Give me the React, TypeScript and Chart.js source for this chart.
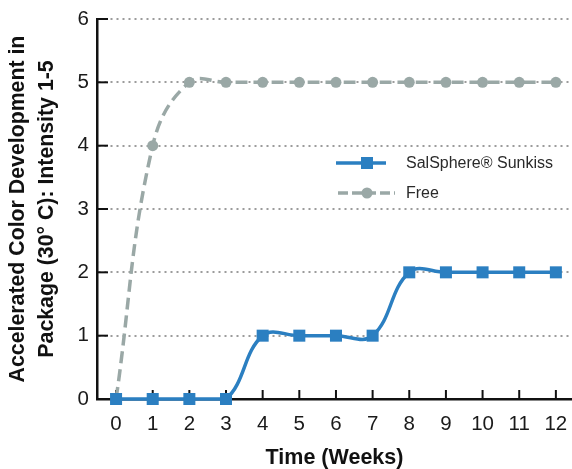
import React, { useEffect, useRef } from "react";
import { Chart, registerables } from "chart.js";

Chart.register(...registerables);

const weeks = [0, 1, 2, 3, 4, 5, 6, 7, 8, 9, 10, 11, 12];
const salsphereValues = [0, 0, 0, 0, 1, 1, 1, 1, 2, 2, 2, 2, 2];
const freeValues = [0, 4, 5, 5, 5, 5, 5, 5, 5, 5, 5, 5, 5];
const yTicks = [0, 1, 2, 3, 4, 5, 6];
const seriesLabels = ["SalSphere® Sunkiss", "Free"];
const yTitle = ["Accelerated Color Development in", "Package (30° C): Intensity 1-5"];
const xTitle = "Time (Weeks)";

const BLUE = "#2b7fc1";
const GRAY = "#9aa8a6";
const FONT = "'Liberation Sans', Arial, Helvetica, sans-serif";

const innerTicks = {
  id: "innerTicks",
  beforeDatasetsDraw(chart: any) {
    const { ctx, scales } = chart;
    const xs = scales.x;
    const ys = scales.y;
    ctx.save();
    ctx.strokeStyle = "#111";
    ctx.lineWidth = 2;
    ctx.lineCap = "butt";
    yTicks.forEach((v) => {
      const py = ys.getPixelForValue(v);
      ctx.beginPath();
      ctx.moveTo(xs.left, py);
      ctx.lineTo(xs.left + 11, py);
      ctx.stroke();
    });
    weeks.forEach((v) => {
      const px = xs.getPixelForValue(v);
      ctx.beginPath();
      ctx.moveTo(px, ys.bottom);
      ctx.lineTo(px, ys.bottom - 9);
      ctx.stroke();
    });
    ctx.restore();
  },
};

const customLegend = {
  id: "customLegend",
  afterDatasetsDraw(chart: any) {
    const { ctx } = chart;
    const ds = chart.data.datasets;
    const rows = [
      { y: 163, x0: 336, x1: 386 },
      { y: 193, x0: 338, x1: 395 },
    ];
    ctx.save();
    ds.forEach((d: any, i: number) => {
      const r = rows[i];
      ctx.strokeStyle = d.borderColor;
      ctx.lineWidth = d.borderWidth;
      ctx.setLineDash(d.borderDash ? [10, 4] : []);
      ctx.beginPath();
      ctx.moveTo(r.x0, r.y);
      ctx.lineTo(r.x1, r.y);
      ctx.stroke();
      ctx.setLineDash([]);
      ctx.fillStyle = d.pointBackgroundColor;
      const cx = 367;
      if (d.pointStyle === "rect") {
        ctx.fillRect(cx - 6, r.y - 6, 12, 12);
      } else {
        ctx.beginPath();
        ctx.arc(cx, r.y, 5.5, 0, Math.PI * 2);
        ctx.fill();
      }
      ctx.fillStyle = "#2a2a2a";
      ctx.font = `16px ${FONT}`;
      ctx.textBaseline = "middle";
      ctx.textAlign = "left";
      ctx.fillText(d.label, 406, r.y + 1);
    });
    ctx.restore();
  },
};

export default function App() {
  const ref = useRef<HTMLCanvasElement | null>(null);

  useEffect(() => {
    if (!ref.current) return;
    const chart = new Chart(ref.current, {
      type: "line",
      data: {
        datasets: [
          {
            label: seriesLabels[0],
            data: weeks.map((w, i) => ({ x: w, y: salsphereValues[i] })),
            borderColor: BLUE,
            backgroundColor: BLUE,
            pointBackgroundColor: BLUE,
            pointBorderColor: BLUE,
            pointBorderWidth: 0,
            pointStyle: "rect",
            pointRadius: 8.5,
            borderWidth: 3.5,
            tension: 0.4,
            clip: false,
          } as any,
          {
            label: seriesLabels[1],
            data: weeks.map((w, i) => ({ x: w, y: freeValues[i] })),
            borderColor: GRAY,
            backgroundColor: GRAY,
            pointBackgroundColor: GRAY,
            pointBorderColor: GRAY,
            pointBorderWidth: 0,
            pointStyle: "circle",
            pointRadius: 5.5,
            borderWidth: 3.5,
            borderDash: [12, 6],
            tension: 0.4,
            clip: false,
          } as any,
        ],
      },
      options: {
        responsive: false,
        animation: false,
        devicePixelRatio: 1,
        layout: { autoPadding: false, padding: { top: 19, left: 0, right: 0, bottom: 0 } },
        plugins: {
          legend: { display: false },
          tooltip: { enabled: false },
        },
        scales: {
          x: {
            type: "linear",
            min: -0.52,
            max: 12.44,
            afterFit: (s: any) => {
              s.height = 70;
              s.paddingLeft = 0;
              s.paddingRight = 0;
            },
            afterBuildTicks: (s: any) => {
              s.ticks = weeks.map((v) => ({ value: v }));
            },
            grid: { display: false, drawTicks: false },
            border: { display: true, color: "#111", width: 2.5 },
            ticks: {
              padding: 13,
              color: "#1a1a1a",
              font: { family: FONT, size: 20.5 },
              callback: (v: any) => String(v),
            },
            title: {
              display: true,
              text: xTitle,
              color: "#111",
              font: { family: FONT, size: 21.5, weight: "bold", lineHeight: 1 },
              padding: { top: 0, bottom: 0 },
            },
          },
          y: {
            type: "linear",
            min: 0,
            max: 6,
            afterFit: (s: any) => {
              s.width = 97;
              s.paddingTop = 0;
              s.paddingBottom = 0;
            },
            afterBuildTicks: (s: any) => {
              s.ticks = yTicks.map((v) => ({ value: v }));
            },
            grid: {
              drawTicks: false,
              color: (c: any) => (c.tick && c.tick.value === 0 ? "rgba(0,0,0,0)" : "#9c9c9c"),
              lineWidth: 2,
            },
            border: { display: true, color: "#111", width: 2.5, dash: [2, 4] } as any,
            ticks: {
              padding: 8,
              color: "#1a1a1a",
              font: { family: FONT, size: 20.5 },
              callback: (v: any) => String(v),
            },
            title: {
              display: true,
              text: yTitle,
              color: "#111",
              font: { family: FONT, size: 21.3, weight: "bold", lineHeight: 1.36 },
              padding: { top: 3.5, bottom: 0 },
            },
          },
        },
      },
      plugins: [innerTicks, customLegend],
    } as any);
    return () => chart.destroy();
  }, []);

  return (
    <div style={{ position: "fixed", left: 0, top: 0, width: 572, height: 469, background: "#fff" }}>
      <canvas ref={ref} width={572} height={469} style={{ width: 572, height: 469, display: "block" }} />
    </div>
  );
}
